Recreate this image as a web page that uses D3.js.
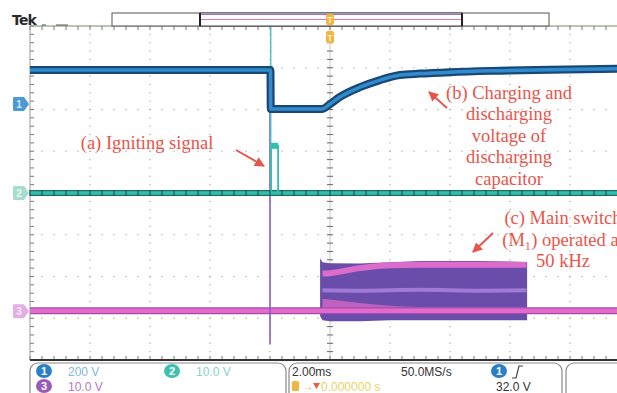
<!DOCTYPE html>
<html>
<head>
<meta charset="utf-8">
<script src="https://cdn.jsdelivr.net/npm/d3@7"></script>
<style>
  body { margin: 0; background: #fff; }
  svg { display: block; }
</style>
</head>
<body>
<div id="scope"></div>
<script>
// time base 2.00 ms/div, trigger at centre
const timeDomain = [-10, 10]
const divDomain = [-4, 4]

// channel settings (V/div, ground offset in divisions)
const ch1Scale = 200, ch1Offset = 2.13
const ch2Scale = 10, ch2Offset = 0
const ch3Scale = 10, ch3Offset = -2.83

// ch1: discharging capacitor voltage
const ch1T = [-10, -1.985, -1.975, -0.27, 0, 0.33, 1, 1.67, 2.33, 3, 4, 5.67, 7.33, 10]
const ch1V = [163, 163, -24, -24, 0, 34, 81, 115, 139, 146, 153, 160, 165, 170]

// ch2: igniting signal
const ch2T = [-10, 10]
const ch2V = [0, 0]
const ch2PulseT = [-1.965, -1.965, -1.73, -1.73]
const ch2PulseV = [0, 11.3, 11.3, 0]
const ch2SpikeT = [-1.975, -1.975]
const ch2SpikeV = [42, 0]

// ch3: main switch gate
const ch3T = [-10, 10]
const ch3V = [0.1, 0.1]
const ch3SpikeT = [-2.0, -2.0]
const ch3SpikeV = [50, -8]

// ch3 50 kHz burst envelope and bands
const burstT = [-0.33, -0.25, 0, 1, 2, 3, 4, 5, 6, 6.57]
const burstHi = [12.7, 11.7, 11.5, 11.4, 11.7, 12.0, 12.0, 12.0, 11.9, 11.7]
const burstLo = [-1.2, -2.2, -2.4, -2.4, -2.2, -2.2, -2.2, -2.2, -2.2, -2.2]
const bandTopT = [-0.25, 0, 1, 2, 3, 6.55]
const bandTopV = [9.0, 9.1, 10.3, 11.0, 11.1, 11.1]
const bandMidT = [-0.25, 1, 3, 5, 6.55]
const bandMidV = [5.0, 4.9, 5.1, 4.9, 5.0]
const fanT = [-0.25, 0.5, 1.5, 3, 6.55]
const fanHi = [3.0, 2.4, 1.6, 1.0, 1.0]
const fanLo = [-0.2, -0.2, -0.2, -0.2, -0.2]

// annotations
const noteA = ['(a) Igniting signal']
const noteB = ['(b) Charging and', 'discharging', 'voltage of', 'discharging', 'capacitor']
const noteC = ['(c) Main switch', '(M₁) operated at', '50 kHz']

// readout labels
const chLabels = ['200 V', '10.0 V', '10.0 V']
const horizLabels = ['2.00ms', '50.0MS/s']
const trigLabels = ['0.000000 s', '32.0 V']

const W = 617, H = 393
const plot = { left: 30, right: 630, top: 26, bottom: 360 }

const x = d3.scaleLinear().domain(timeDomain).range([plot.left, plot.right])
const yDiv = d3.scaleLinear().domain(divDomain).range([plot.bottom, plot.top])
const yCh = (scale, off) => (v) => yDiv(v / scale + off)
const y1 = yCh(ch1Scale, ch1Offset)
const y2 = yCh(ch2Scale, ch2Offset)
const y3 = yCh(ch3Scale, ch3Offset)

const red = '#e8554a'

const svg = d3.select('#scope').append('svg')
    .attr('width', W).attr('height', H)
    .style('font-family', 'Liberation Sans, Arial, sans-serif')

svg.append('rect').attr('width', W).attr('height', H).attr('fill', '#fff')

svg.append('clipPath').attr('id', 'clip')
    .append('rect')
    .attr('x', plot.left).attr('y', plot.top)
    .attr('width', plot.right - plot.left).attr('height', plot.bottom - plot.top)

// ---------- graticule ----------
let grid = svg.append('g').attr('class', 'grid')
let majorT = d3.range(-10, 10.01, 2)
let majorD = d3.range(-4, 4.01, 1)
let minorT = d3.range(-10, 10.01, 0.4)
let minorD = d3.range(-4, 4.01, 0.2)

// dotted lines
majorT.forEach((t) => {
    if (t === 0 || t === -10) return
    grid.selectAll(null).data(minorD).enter().append('rect')
        .attr('x', x(t) - 0.6).attr('y', (d) => yDiv(d) - 0.6)
        .attr('width', 1.2).attr('height', 1.2).attr('fill', '#aaa')
})
majorD.forEach((d) => {
    if (d === 0 || Math.abs(d) === 4) return
    grid.selectAll(null).data(minorT).enter().append('rect')
        .attr('x', (t) => x(t) - 0.6).attr('y', yDiv(d) - 0.6)
        .attr('width', 1.2).attr('height', 1.2).attr('fill', '#aaa')
})

// centre cross with ticks
grid.append('line')
    .attr('x1', x(0)).attr('x2', x(0)).attr('y1', plot.top).attr('y2', plot.bottom)
    .attr('stroke', '#bbb').attr('stroke-width', 0.8)
grid.selectAll(null).data(minorD).enter().append('line')
    .attr('x1', x(0) - 3).attr('x2', x(0) + 3)
    .attr('y1', (d) => yDiv(d)).attr('y2', (d) => yDiv(d))
    .attr('stroke', '#666').attr('stroke-width', 1)
grid.selectAll(null).data(minorT).enter().append('line')
    .attr('x1', (t) => x(t)).attr('x2', (t) => x(t))
    .attr('y1', yDiv(0) - 3).attr('y2', yDiv(0) + 3)
    .attr('stroke', '#555').attr('stroke-width', 1)

// edge ticks
grid.selectAll(null).data(minorD).enter().append('line')
    .attr('x1', plot.left).attr('x2', plot.left + 4)
    .attr('y1', (d) => yDiv(d)).attr('y2', (d) => yDiv(d))
    .attr('stroke', '#777').attr('stroke-width', 1)
grid.selectAll(null).data(minorT).enter().append('line')
    .attr('x1', (t) => x(t)).attr('x2', (t) => x(t))
    .attr('y1', plot.top).attr('y2', plot.top + 4)
    .attr('stroke', '#777').attr('stroke-width', 1)
grid.selectAll(null).data(minorT).enter().append('line')
    .attr('x1', (t) => x(t)).attr('x2', (t) => x(t))
    .attr('y1', plot.bottom - 4).attr('y2', plot.bottom)
    .attr('stroke', '#777').attr('stroke-width', 1)

grid.append('line')
    .attr('x1', plot.left).attr('x2', plot.left).attr('y1', plot.top).attr('y2', plot.bottom)
    .attr('stroke', '#999').attr('stroke-width', 1)
grid.append('line')
    .attr('x1', plot.left).attr('x2', W).attr('y1', plot.top).attr('y2', plot.top)
    .attr('stroke', '#7a8a6a').attr('stroke-width', 1.2)
grid.append('line')
    .attr('x1', plot.left).attr('x2', W).attr('y1', plot.bottom).attr('y2', plot.bottom)
    .attr('stroke', '#333').attr('stroke-width', 2)

// ---------- traces ----------
let traces = svg.append('g').attr('clip-path', 'url(#clip)')

const pts = (ts, vs) => ts.map((t, i) => [t, vs[i]])
const lineFor = (yf, curve) => d3.line().x((d) => x(d[0])).y((d) => yf(d[1])).curve(curve || d3.curveLinear)

// ch3 burst
traces.append('path')
    .datum(burstT.map((t, i) => [t, burstHi[i], burstLo[i]]))
    .attr('d', d3.area().x((d) => x(d[0])).y0((d) => y3(d[2])).y1((d) => y3(d[1])))
    .attr('fill', '#6a4cab')
traces.append('path')
    .datum(fanT.map((t, i) => [t, fanHi[i], fanLo[i]]))
    .attr('d', d3.area().x((d) => x(d[0])).y0((d) => y3(d[2])).y1((d) => y3(d[1])).curve(d3.curveMonotoneX))
    .attr('fill', '#d468c4').attr('opacity', 0.8)
traces.append('path')
    .datum(pts(bandTopT, bandTopV))
    .attr('d', lineFor(y3, d3.curveMonotoneX))
    .attr('fill', 'none').attr('stroke', '#dc6ccb').attr('stroke-width', 6)
traces.append('path')
    .datum(pts(bandMidT, bandMidV))
    .attr('d', lineFor(y3, d3.curveMonotoneX))
    .attr('fill', 'none').attr('stroke', '#a07ad4').attr('stroke-width', 4)

// ch3 baseline
traces.append('path').datum(pts(ch3T, ch3V)).attr('d', lineFor(y3))
    .attr('fill', 'none').attr('stroke', '#9c4fb0').attr('stroke-width', 7)
traces.append('path').datum(pts(ch3T, ch3V)).attr('d', lineFor(y3))
    .attr('fill', 'none').attr('stroke', '#e56acb').attr('stroke-width', 4.5)
traces.append('path').datum(pts(ch3SpikeT, ch3SpikeV)).attr('d', lineFor(y3))
    .attr('fill', 'none').attr('stroke', '#8a5ac0').attr('stroke-width', 1.6)

// ch2
traces.append('path').datum(pts(ch2T, ch2V)).attr('d', lineFor(y2))
    .attr('fill', 'none').attr('stroke', '#1d6f66').attr('stroke-width', 6)
traces.append('path').datum(pts(ch2T, ch2V)).attr('d', lineFor(y2))
    .attr('fill', 'none').attr('stroke', '#33bfae').attr('stroke-width', 3.5)
traces.append('path').datum(pts(ch2SpikeT, ch2SpikeV)).attr('d', lineFor(y2))
    .attr('fill', 'none').attr('stroke', '#45c4c0').attr('stroke-width', 1.4)
traces.append('path').datum(pts(ch2PulseT, ch2PulseV)).attr('d', lineFor(y2))
    .attr('fill', 'none').attr('stroke', '#33bfae').attr('stroke-width', 1.8)
traces.append('path').datum(pts(ch2PulseT.slice(1, 3), ch2PulseV.slice(1, 3))).attr('d', lineFor(y2))
    .attr('fill', 'none').attr('stroke', '#33bfae').attr('stroke-width', 6)

// ch1
traces.append('path').datum(pts(ch1T, ch1V)).attr('d', lineFor(y1, d3.curveMonotoneX))
    .attr('fill', 'none').attr('stroke', '#1b4677').attr('stroke-width', 8)
traces.append('path').datum(pts(ch1T, ch1V)).attr('d', lineFor(y1, d3.curveMonotoneX))
    .attr('fill', 'none').attr('stroke', '#2f8dcc').attr('stroke-width', 3.5)

// centre ticks drawn again over ch2 trace
svg.append('g').selectAll(null).data(minorT).enter().append('line')
    .attr('x1', (t) => x(t)).attr('x2', (t) => x(t))
    .attr('y1', yDiv(0) - 3).attr('y2', yDiv(0) + 3)
    .attr('stroke', '#22423e').attr('stroke-width', 1)

// ---------- channel markers ----------
const markers = [
    { n: '1', y: y1(0), fill: '#4b9bd2', text: '#cfe6f6' },
    { n: '2', y: y2(0), fill: '#a6dccf', text: '#eaf7f2' },
    { n: '3', y: y3(0), fill: '#e2aee4', text: '#f7e6f7' }
]
let mk = svg.append('g').selectAll('g').data(markers).enter().append('g')
    .attr('transform', (d) => `translate(0, ${d.y})`)
mk.append('path')
    .attr('d', 'M13,-6 Q13,-7 15,-7 L24,-7 L29,0 L24,7 L15,7 Q13,7 13,6 Z')
    .attr('fill', (d) => d.fill)
mk.append('text').attr('x', 19).attr('y', 4).attr('text-anchor', 'middle')
    .attr('font-size', 10).attr('font-weight', 'bold').attr('fill', (d) => d.text)
    .text((d) => d.n)

// ---------- top bar ----------
svg.append('text').attr('x', 12).attr('y', 25)
    .attr('font-size', 14).attr('font-weight', 'bold').attr('fill', '#2a2a2a')
    .attr('font-family', 'DejaVu Sans, sans-serif').attr('letter-spacing', -0.8)
    .text('Tek')
svg.append('line').attr('x1', 42).attr('x2', 46).attr('y1', 25).attr('y2', 25).attr('stroke', '#555')
svg.append('line').attr('x1', 56).attr('x2', 68).attr('y1', 25).attr('y2', 25).attr('stroke', '#555')

svg.append('rect').attr('x', 112).attr('y', 13).attr('width', 437).attr('height', 13)
    .attr('fill', '#fff').attr('stroke', '#555').attr('stroke-width', 1)
svg.append('rect').attr('x', 200).attr('y', 13).attr('width', 262).attr('height', 13)
    .attr('fill', '#fff').attr('stroke', '#444').attr('stroke-width', 1)
svg.append('line').attr('x1', 200).attr('x2', 200).attr('y1', 13).attr('y2', 26).attr('stroke', '#222').attr('stroke-width', 2)
svg.append('line').attr('x1', 462).attr('x2', 462).attr('y1', 13).attr('y2', 26).attr('stroke', '#222').attr('stroke-width', 2)
svg.append('line').attr('x1', 201).attr('x2', 461).attr('y1', 14.5).attr('y2', 14.5).attr('stroke', '#9a70c0').attr('stroke-width', 1)
svg.append('line').attr('x1', 201).attr('x2', 461).attr('y1', 19.5).attr('y2', 19.5).attr('stroke', '#e07ab8').attr('stroke-width', 1)

// trigger position markers
;[[14, 11], [31, 12]].forEach(([yy, hh]) => {
    svg.append('rect').attr('x', x(0) - 4).attr('y', yy).attr('width', 8).attr('height', hh)
        .attr('rx', 2).attr('fill', '#f2b540')
    svg.append('text').attr('x', x(0)).attr('y', yy + hh - 2).attr('text-anchor', 'middle')
        .attr('font-size', 9).attr('font-weight', 'bold').attr('fill', '#fff3cf').text('T')
})

// ---------- annotations ----------
let notes = svg.append('g')
    .attr('font-family', 'Liberation Serif, Times New Roman, serif')
    .attr('font-size', 18.5).attr('fill', red)

notes.append('text').attr('x', 147).attr('y', 149).attr('text-anchor', 'middle').text(noteA[0])
notes.selectAll(null).data(noteB).enter().append('text')
    .attr('x', 509).attr('y', (d, i) => 99 + i * 21.4).attr('text-anchor', 'middle')
    .text((d) => d)
notes.selectAll(null).data(noteC).enter().append('text')
    .attr('x', 563).attr('y', (d, i) => 224 + i * 21.5).attr('text-anchor', 'middle')
    .text((d) => d)

svg.append('defs').append('marker')
    .attr('id', 'arrow').attr('viewBox', '0 0 10 10')
    .attr('refX', 9).attr('refY', 5).attr('markerWidth', 5).attr('markerHeight', 5)
    .attr('orient', 'auto')
    .append('path').attr('d', 'M0,0 L10,5 L0,10 Z').attr('fill', red)

const arrows = [
    [236, 150, 264, 166],
    [447, 108, 429, 92],
    [493, 233, 473, 252]
]
svg.append('g').selectAll('line').data(arrows).enter().append('line')
    .attr('x1', (d) => d[0]).attr('y1', (d) => d[1]).attr('x2', (d) => d[2]).attr('y2', (d) => d[3])
    .attr('stroke', red).attr('stroke-width', 2).attr('marker-end', 'url(#arrow)')

// ---------- readout panels ----------
let panels = svg.append('g')
;[[30, 256], [289, 273], [566, 80]].forEach(([px, pw]) => {
    panels.append('rect').attr('x', px).attr('y', 363).attr('width', pw).attr('height', 40)
        .attr('rx', 8).attr('fill', '#fff').attr('stroke', '#8a8a8a').attr('stroke-width', 1.2)
})

const badges = [
    { n: '1', x: 44, y: 371, fill: '#2b7fc6', label: chLabels[0], lx: 68, col: '#7db9e2' },
    { n: '2', x: 172, y: 371, fill: '#3fbfb0', label: chLabels[1], lx: 196, col: '#7fd3c9' },
    { n: '3', x: 44, y: 386, fill: '#9a5ab8', label: chLabels[2], lx: 68, col: '#b27ac6' },
    { n: '1', x: 499, y: 371, fill: '#2b7fc6', label: '', lx: 0, col: '#333' }
]
let bg = svg.append('g').selectAll('g').data(badges).enter().append('g')
bg.append('ellipse').attr('cx', (d) => d.x).attr('cy', (d) => d.y).attr('rx', 8).attr('ry', 7)
    .attr('fill', (d) => d.fill)
bg.append('text').attr('x', (d) => d.x).attr('y', (d) => d.y + 4).attr('text-anchor', 'middle')
    .attr('font-size', 11).attr('font-weight', 'bold').attr('fill', '#fff').text((d) => d.n)
bg.append('text').attr('x', (d) => d.lx).attr('y', (d) => d.y + 4.5)
    .attr('font-size', 12).attr('fill', (d) => d.col).text((d) => d.label)

svg.append('text').attr('x', 292).attr('y', 376).attr('font-size', 12).attr('fill', '#333').text(horizLabels[0])
svg.append('text').attr('x', 401).attr('y', 376).attr('font-size', 12).attr('fill', '#333').text(horizLabels[1])
svg.append('text').attr('x', 496).attr('y', 391).attr('font-size', 12).attr('fill', '#333').text(trigLabels[1])
svg.append('path').attr('d', 'M512,378 L516,378 L519,366 L523,366')
    .attr('fill', 'none').attr('stroke', '#444').attr('stroke-width', 1.2)

svg.append('rect').attr('x', 292).attr('y', 381).attr('width', 7).attr('height', 10).attr('rx', 1.5).attr('fill', '#f2b540')
svg.append('text').attr('x', 303).attr('y', 390).attr('font-size', 10).attr('fill', '#e8a030').text('→')
svg.append('path').attr('d', 'M313,383 L320,383 L316.5,389 Z').attr('fill', '#e8603a')
svg.append('text').attr('x', 321).attr('y', 391).attr('font-size', 12).attr('fill', '#e9d26a').text(trigLabels[0])
</script>
</body>
</html>
